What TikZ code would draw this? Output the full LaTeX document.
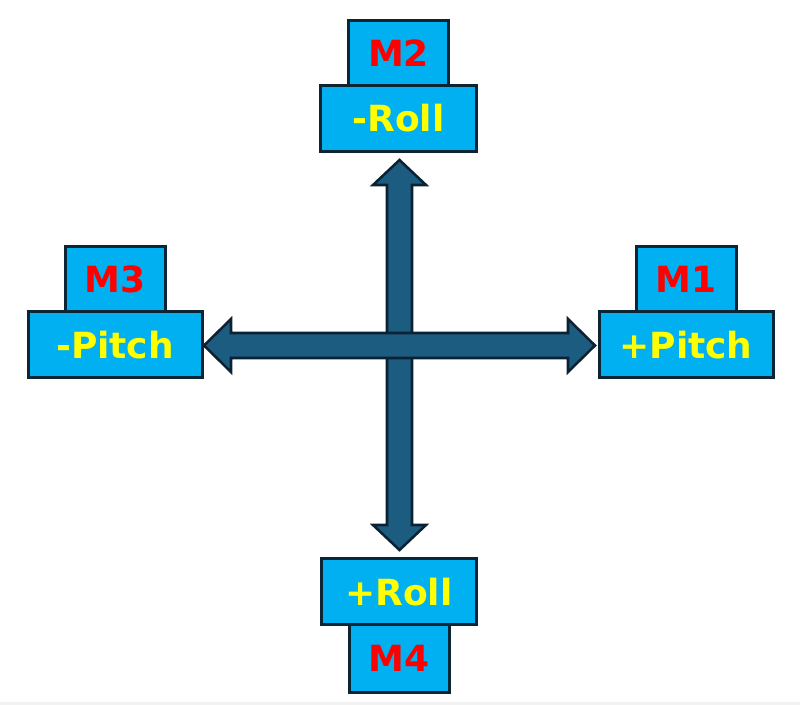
\documentclass[tikz,border=0pt]{standalone}
\usepackage{fontspec}
\setmainfont{DejaVu Sans}
\usetikzlibrary{positioning}
\definecolor{boxblue}{HTML}{00B0F0}
\definecolor{boxline}{HTML}{0C2535}
\definecolor{arrowblue}{HTML}{1C5C80}
\definecolor{arrowline}{HTML}{0A2233}
\definecolor{motorred}{HTML}{FF0000}
\definecolor{axisyellow}{HTML}{FFFF00}
\definecolor{bandgray}{HTML}{F2F2F2}
\tikzset{
  tag/.style={draw=boxline,fill=boxblue,line width=2.25pt,outer sep=0pt,inner sep=0pt,
    font=\fontsize{27}{32}\selectfont\bfseries},
  motor/.style={tag,text=motorred,minimum width=75pt,minimum height=49pt},
  axis/.style={tag,text=axisyellow,minimum height=49.5pt},
  bigarrow/.style={fill=arrowblue,draw=arrowline,line width=1.9pt,line join=miter}
}

\begin{document}
\begin{tikzpicture}[x=0.75pt,y=-0.75pt]
\useasboundingbox (0,0) rectangle (800,705);
\fill[bandgray] (0,702) rectangle (800,705);
% arrows, horizontal one on top
\draw[bigarrow] (399.5,160) -- (426,185) -- (412,185) -- (412,525) -- (426,525) -- (399.5,550)
  -- (373,525) -- (387,525) -- (387,185) -- (373,185) -- cycle;
\draw[bigarrow] (204,345.5) -- (231,319) -- (231,333) -- (568,333) -- (568,319) -- (595,345.5)
  -- (568,372) -- (568,358) -- (231,358) -- (231,372) -- cycle;
% boxes
\node[axis,minimum width=116.5pt] (rollneg) at (398.5,118.5) {-Roll};
\node[motor,above=0pt of rollneg] (m2) {M2};
\node[axis,minimum width=130.5pt] (pitchneg) at (115,345) {-Pitch};
\node[motor,above=0pt of pitchneg] (m3) {M3};
\node[axis,minimum width=130.5pt] (pitchpos) at (686,345) {+Pitch};
\node[motor,above=0pt of pitchpos] (m1) {M1};
\node[axis,minimum width=116.5pt] (rollpos) at (399,592) {+Roll};
\node[motor,below=0pt of rollpos,minimum height=50.5pt] (m4) {M4};
\end{tikzpicture}
\end{document}
